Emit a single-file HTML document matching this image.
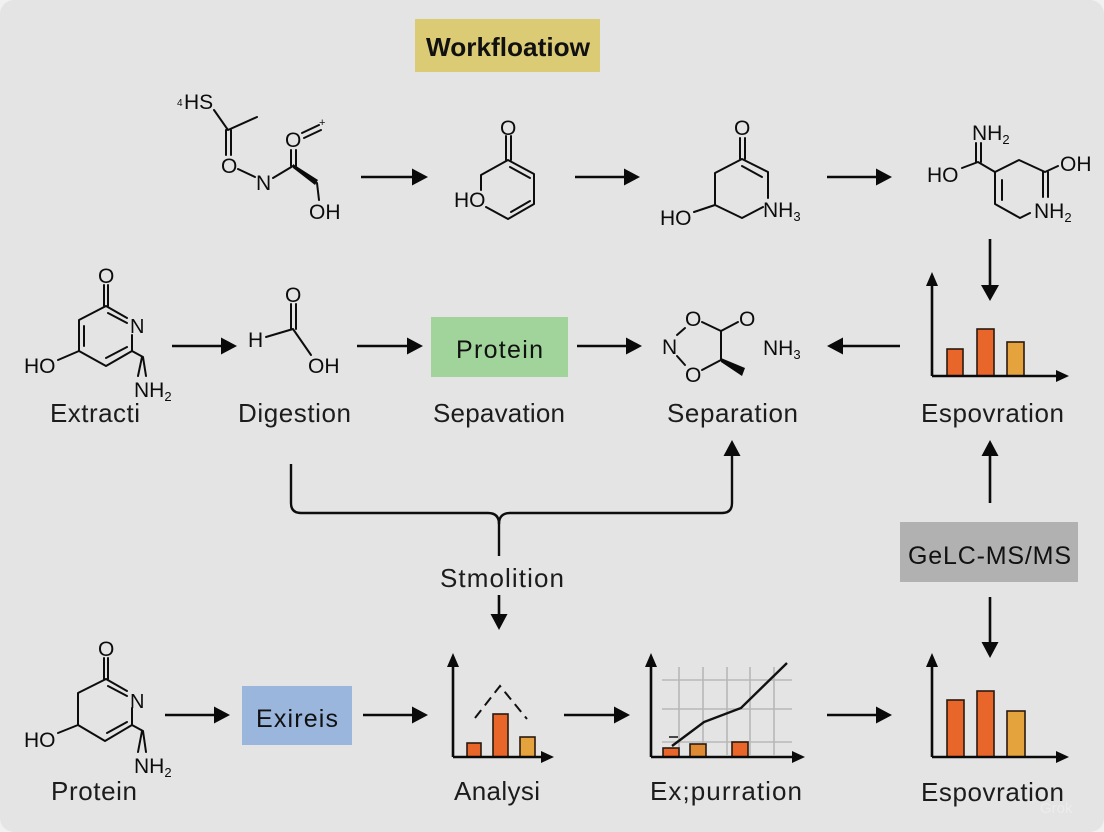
<!DOCTYPE html>
<html>
<head>
<meta charset="utf-8">
<style>
html,body{margin:0;padding:0;width:1104px;height:832px;overflow:hidden;background:#f1f1f1}
svg{display:block}
text{font-family:"Liberation Sans",sans-serif;fill:#111}
.l{font-size:26px;fill:#1c1c1c}
.c{font-size:21px;fill:#0c0c0c}
.s{font-size:13px}
.b{fill:none;stroke:#0d0d0d;stroke-width:2;stroke-linecap:round;stroke-linejoin:round}
.a{fill:none;stroke:#0a0a0a;stroke-width:2.6}
.h{fill:#0a0a0a;stroke:none}
.o{fill:#e9662a;stroke:#2a1a10;stroke-width:1.6}
.y{fill:#e5a33d;stroke:#2a1a10;stroke-width:1.6}
.g{stroke:#b8b8b8;stroke-width:1.6;fill:none}
</style>
</head>
<body>
<svg width="1104" height="832" viewBox="0 0 1104 832" xmlns="http://www.w3.org/2000/svg">
<rect x="0" y="0" width="1104" height="832" rx="14" fill="#e4e4e4"/>

<!-- title -->
<rect x="415" y="19" width="185" height="53" fill="#dccb75"/>
<text x="426" y="56" font-size="26" font-weight="bold" textLength="164" lengthAdjust="spacingAndGlyphs">Workfloatiow</text>

<!-- molecule 1 -->
<text x="177" y="106" font-size="10" class="c" style="font-size:10px">4</text>
<text x="184" y="109" class="c">HS</text>
<path class="b" d="M214 110L228 130L257 117M226 130V155M231 130V155M238 169L255 177M273 178L293 166M291 166V150M296 166V150M302 133L319 125M304 138L321 130M317 183L319 200"/>
<polygon class="h" points="293,164 318,180 315,185 293,168"/>
<text x="221" y="173" class="c">O</text>
<text x="256" y="190" class="c">N</text>
<text x="285" y="147" class="c">O</text>
<text x="319" y="126" style="font-size:11px">+</text>
<text x="309" y="219" class="c">OH</text>

<!-- arrow -->
<path class="a" d="M361 177H416"/><polygon class="h" points="428,177 412,168.500 412,185.500"/>

<!-- molecule 2 -->
<path class="b" d="M506 136V160M511 136V160M508 160L481 175V190M486 207L508 219L534 204V174L508 160M510 167L530 178M511 212L530 201"/>
<text x="500" y="135" class="c">O</text>
<text x="454" y="207" class="c">HO</text>

<path class="a" d="M575 177H628"/><polygon class="h" points="640,177 624,168.500 624,185.500"/>

<!-- molecule 3 -->
<path class="b" d="M740 138V159M745 138V159M742 159L715 173V205L742 218L763 207M768 198V172L742 159M742 166L762 177M694 212L715 205"/>
<text x="734" y="135" class="c">O</text>
<text x="660" y="225" class="c">HO</text>
<text x="763" y="217" class="c">NH<tspan class="s" dy="4">3</tspan></text>

<path class="a" d="M827 177H880"/><polygon class="h" points="892,177 876,168.500 876,185.500"/>

<!-- molecule 4 -->
<path class="b" d="M976 143V162M981 143V162M962 168L978 162L995 172L1019 160L1045 172L1058 166M1043 172V197M1048 172V197M1030 213L1020 218L995 204V172M1002 180V200"/>
<text x="972" y="140" class="c">NH<tspan class="s" dy="4">2</tspan></text>
<text x="927" y="182" class="c">HO</text>
<text x="1060" y="171" class="c">OH</text>
<text x="1034" y="218" class="c">NH<tspan class="s" dy="4">2</tspan></text>

<path class="a" d="M990 239V288"/><polygon class="h" points="990,301 981,285 999,285"/>

<!-- row 2 chart -->
<rect class="o" x="947" y="349" width="16" height="27"/>
<rect class="o" x="977" y="329" width="17" height="47"/>
<rect class="y" x="1007" y="342" width="17" height="34"/>
<path class="a" d="M932 376V284M932 376H1058"/>
<polygon class="h" points="932,272 926,286 938,286"/>
<polygon class="h" points="1069,376 1056,370 1056,382"/>
<text class="l" x="921" y="422" textLength="143" lengthAdjust="spacing">Espovration</text>

<path class="a" d="M900 346H838"/><polygon class="h" points="827,346 843,337.500 843,354.500"/>

<!-- separation molecule -->
<path class="b" d="M702 322L721 331L738 322M721 331V360L702 370M677 335L685 328M677 356L685 365"/>
<polygon class="h" points="721,358 745,368 742,376 721,362"/>
<text x="685" y="326" class="c">O</text>
<text x="739" y="326" class="c">O</text>
<text x="662" y="354" class="c">N</text>
<text x="685" y="382" class="c">O</text>
<text x="763" y="355" class="c">NH<tspan class="s" dy="4">3</tspan></text>
<text class="l" x="667" y="422" textLength="131" lengthAdjust="spacing">Separation</text>

<!-- protein box -->
<path class="a" d="M577 346H630"/><polygon class="h" points="642,346 626,337.500 626,354.500"/>
<rect x="431" y="317" width="137" height="60" fill="#a0d49a"/>
<text x="456" y="358" font-size="25" textLength="87" lengthAdjust="spacing" fill="#1c2c1c">Protein</text>
<text class="l" x="433" y="422" textLength="132" lengthAdjust="spacing">Sepavation</text>
<path class="a" d="M357 346H411"/><polygon class="h" points="423,346 407,337.500 407,354.500"/>

<!-- digestion -->
<path class="b" d="M291 304V329M296 304V329M266 337L293 329L311 355"/>
<text x="285" y="302" class="c">O</text>
<text x="248" y="347" class="c">H</text>
<text x="308" y="373" class="c">OH</text>
<text class="l" x="238" y="422" textLength="113" lengthAdjust="spacing">Digestion</text>
<path class="a" d="M172 346H225"/><polygon class="h" points="237,346 221,337.500 221,354.500"/>

<!-- extract molecule -->
<path class="b" d="M104 285V306M108 285V306M106 306L79 320V351L106 366L132 351V335M106 306L127 318M108 313L127 323M84 326V346M106 358L127 347M58 360L79 351M132 351L143 357L146 376M142 357L138 376"/>
<text x="98" y="283" class="c">O</text>
<text x="130" y="333" class="c" style="font-size:20px">N</text>
<text x="24" y="373" class="c">HO</text>
<text x="134" y="397" class="c">NH<tspan class="s" dy="4">2</tspan></text>
<text class="l" x="50" y="422" textLength="90" lengthAdjust="spacing">Extracti</text>

<!-- bracket -->
<path fill="none" stroke="#0d0d0d" stroke-width="2.4" d="M291 464V503Q291 513 301 513H488Q499 513 499 524Q499 513 510 513H722Q732 513 732 503V452"/>
<path fill="none" stroke="#0d0d0d" stroke-width="2.4" d="M499 522V556"/>
<polygon class="h" points="732,440 723.500,456 740.500,456"/>
<text class="l" x="440" y="587" textLength="124" lengthAdjust="spacing">Stmolition</text>
<path class="a" d="M499 595V618"/><polygon class="h" points="499,630 490.500,614 507.500,614"/>

<!-- right column -->
<path class="a" d="M990 503V452"/><polygon class="h" points="990,440 981.500,456 998.500,456"/>
<rect x="900" y="522" width="178" height="60" fill="#b1b1b1"/>
<text x="908" y="564" font-size="25" textLength="163" lengthAdjust="spacing" fill="#1c1c1c">GeLC-MS/MS</text>
<path class="a" d="M990 597V646"/><polygon class="h" points="990,658 981.500,642 998.500,642"/>

<!-- bottom-left molecule -->
<path class="b" d="M104 658V679M108 658V679M106 679L78 693V725L105 741L132 725V708M106 679L127 691M108 686L127 696M107 733L127 722M58 733L78 725M132 725L143 731L146 752M142 731L138 752"/>
<text x="98" y="656" class="c">O</text>
<text x="130" y="708" class="c" style="font-size:20px">N</text>
<text x="24" y="747" class="c">HO</text>
<text x="134" y="773" class="c">NH<tspan class="s" dy="4">2</tspan></text>
<text class="l" x="51" y="800" textLength="86" lengthAdjust="spacing">Protein</text>

<path class="a" d="M165 715H218"/><polygon class="h" points="230,715 214,706.500 214,723.500"/>
<rect x="242" y="686" width="110" height="59" fill="#9ab6dc"/>
<text x="256" y="727" font-size="25" textLength="82" lengthAdjust="spacing" fill="#1c2434">Exireis</text>
<path class="a" d="M363 715H416"/><polygon class="h" points="428,715 412,706.500 412,723.500"/>

<!-- analysis chart -->
<rect class="o" x="467" y="743" width="14" height="14"/>
<rect class="o" x="493" y="714" width="15" height="43"/>
<rect class="y" x="520" y="737" width="15" height="20"/>
<path class="a" d="M453 757V665M453 757H544"/>
<polygon class="h" points="453,653 447,667 459,667"/>
<polygon class="h" points="554,757 541,751 541,763"/>
<path fill="none" stroke="#111" stroke-width="2" stroke-dasharray="10 6" d="M475 718L500 686L527 719"/>
<text class="l" x="454" y="800" textLength="86" lengthAdjust="spacing">Analysi</text>

<path class="a" d="M564 715H618"/><polygon class="h" points="630,715 614,706.500 614,723.500"/>

<!-- grid chart -->
<path class="g" d="M679 667V755M703 667V755M727 667V755M750 667V755M774 667V755M662 680H792M662 709H792M662 742H792"/>
<rect class="o" x="663" y="748" width="16" height="9"/>
<rect x="690" y="744" width="16" height="13" fill="#de8a32" stroke="#2a1a10" stroke-width="1.600"/>
<rect class="o" x="732" y="742" width="16" height="15"/>
<path fill="none" stroke="#111" stroke-width="2.400" d="M672 746L704 722L741 708L787 663"/>
<path stroke="#111" stroke-width="1.500" d="M669 737H678"/>
<path class="a" d="M651 757V665M651 757H795"/>
<polygon class="h" points="651,653 645,667 657,667"/>
<polygon class="h" points="805,757 792,751 792,763"/>
<text class="l" x="650" y="800" textLength="152" lengthAdjust="spacing">Ex;purration</text>

<path class="a" d="M827 715H880"/><polygon class="h" points="892,715 876,706.500 876,723.500"/>

<!-- bottom right chart -->
<rect class="o" x="947" y="700" width="17" height="57"/>
<rect class="o" x="977" y="691" width="17" height="66"/>
<rect class="y" x="1007" y="711" width="18" height="46"/>
<path class="a" d="M932 757V665M932 757H1058"/>
<polygon class="h" points="932,653 926,667 938,667"/>
<polygon class="h" points="1069,757 1056,751 1056,763"/>
<text class="l" x="921" y="801" textLength="143" lengthAdjust="spacing">Espovration</text>

<text x="1040" y="813" font-size="15" style="fill:#ececec">Grok</text>
</svg>
</body>
</html>
